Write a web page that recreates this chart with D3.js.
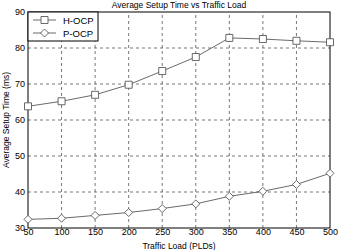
<!DOCTYPE html>
<html><head><meta charset="utf-8">
<script src="https://cdn.jsdelivr.net/npm/d3@7"></script>
<style>body{margin:0;background:#fff}svg{display:block}text{font-family:"Liberation Sans",Arial,sans-serif}</style>
</head><body>
<script>
const loads = [50,100,150,200,250,300,350,400,450,500];
const hocp = [63.8,65.2,67.0,69.8,73.6,77.5,82.8,82.5,82.0,81.6];
const pocp = [32.4,32.7,33.5,34.3,35.4,36.7,38.8,40.2,42.1,45.2];
const yTicks = [30,40,50,60,70,80,90];
const seriesNames = ["H-OCP","P-OCP"];

const W=339,H=250;
const m={l:28,r:9,t:12,b:22};
const svg=d3.select("body").append("svg").attr("width",W).attr("height",H);
const x=d3.scaleLinear().domain([50,500]).range([m.l,W-m.r]);
const y=d3.scaleLinear().domain([30,90]).range([H-m.b,m.t]);
const g=svg.append("g");

// grid
g.selectAll(".gx").data(loads.slice(1,-1)).enter().append("line")
 .attr("x1",d=>x(d)).attr("x2",d=>x(d)).attr("y1",y(30)).attr("y2",y(90))
 .attr("stroke","#555").attr("stroke-width",0.8).attr("stroke-dasharray","3,3");
g.selectAll(".gy").data(yTicks.slice(1,-1)).enter().append("line")
 .attr("y1",d=>y(d)).attr("y2",d=>y(d)).attr("x1",x(50)).attr("x2",x(500))
 .attr("stroke","#555").attr("stroke-width",0.8).attr("stroke-dasharray","3,3");

// axes
const xa=svg.append("g").attr("transform",`translate(0,${y(30)})`)
 .call(d3.axisBottom(x).tickValues(loads).tickSize(0).tickPadding(1).tickFormat(d3.format("d")));
const ya=svg.append("g").attr("transform",`translate(${x(50)},0)`)
 .call(d3.axisLeft(y).tickValues(yTicks).tickSize(0).tickPadding(3));
[xa,ya].forEach(a=>{a.select(".domain").remove();a.selectAll("text").attr("font-size",9).attr("fill","#000").style("font-family","Liberation Sans, Arial, sans-serif");});

// frame
svg.append("rect").attr("x",x(50)).attr("y",y(90)).attr("width",x(500)-x(50)).attr("height",y(30)-y(90))
 .attr("fill","none").attr("stroke","#000").attr("stroke-width",1);

const line=d3.line().x((d,i)=>x(loads[i])).y(d=>y(d));
const col="#444";
function drawSeries(vals,shape){
  svg.append("path").attr("d",line(vals)).attr("fill","none").attr("stroke",col).attr("stroke-width",0.8);
  svg.selectAll(null).data(vals).enter().append("path")
   .attr("transform",(d,i)=>`translate(${x(loads[i])},${y(d)})`)
   .attr("d",shape).attr("fill","#fff").attr("stroke",col).attr("stroke-width",0.8);
}
const sq="M-3.5,-3.5H3.5V3.5H-3.5Z";
const dm="M0,-4L4,0L0,4L-4,0Z";
drawSeries(hocp,sq);
drawSeries(pocp,dm);

// legend
const lg=svg.append("g");
lg.append("rect").attr("x",x(50)).attr("y",y(90)).attr("width",70).attr("height",29)
 .attr("fill","#fff").attr("stroke","#000").attr("stroke-width",1);
[[sq,20],[dm,33]].forEach((s,i)=>{
  lg.append("line").attr("x1",x(50)+5).attr("x2",x(50)+28).attr("y1",s[1]).attr("y2",s[1]).attr("stroke",col).attr("stroke-width",0.8);
  lg.append("path").attr("d",s[0]).attr("transform",`translate(${x(50)+16.5},${s[1]})`).attr("fill","#fff").attr("stroke",col).attr("stroke-width",0.8);
  lg.append("text").attr("x",x(50)+35).attr("y",s[1]+3.5).attr("font-size",9.5).text(seriesNames[i]);
});

svg.append("text").attr("x",(x(50)+x(500))/2).attr("y",8).attr("text-anchor","middle").attr("font-size",8.5).text("Average Setup Time vs Traffic Load");
svg.append("text").attr("x",(x(50)+x(500))/2).attr("y",248.5).attr("text-anchor","middle").attr("font-size",8.5).text("Traffic Load (PLDs)");
svg.append("text").attr("transform",`translate(9,${(y(30)+y(90))/2}) rotate(-90)`).attr("text-anchor","middle").attr("font-size",8.5).text("Average Setup Time (ms)");
</script>
</body></html>
